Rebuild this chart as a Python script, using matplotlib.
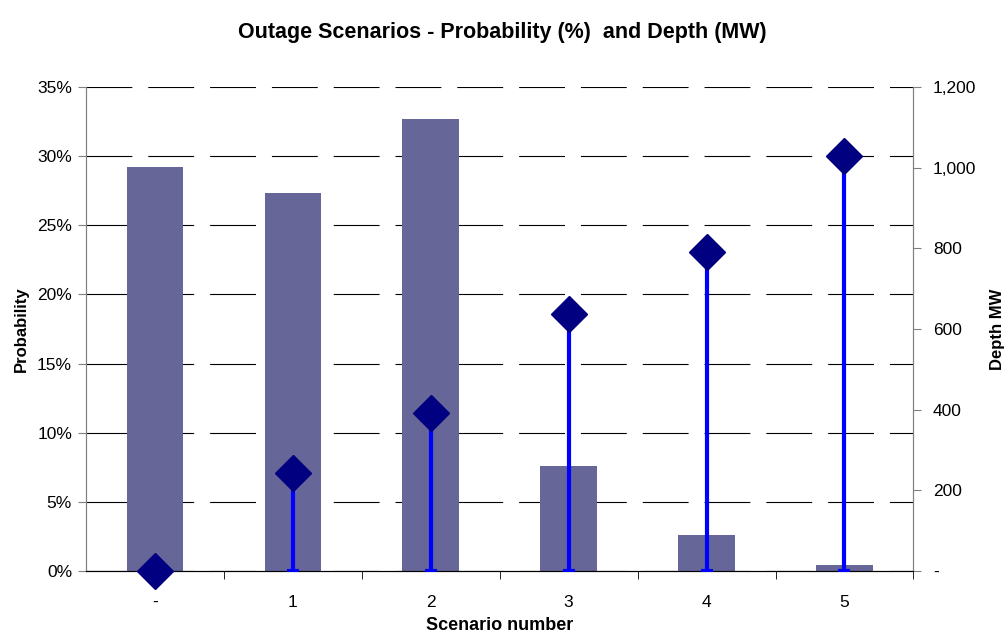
import matplotlib
matplotlib.use("Agg")
import matplotlib.pyplot as plt
import numpy as np
from matplotlib.ticker import FuncFormatter

# scenario data
scenarios = ["-", "1", "2", "3", "4", "5"]
probability = [29.2, 27.3, 32.7, 7.6, 2.6, 0.45]   # %
depth_mw = [0, 243, 392, 637, 790, 1030]           # MW

plt.rcParams['font.family'] = ['Liberation Sans', 'DejaVu Sans']
plt.rcParams['lines.scale_dashes'] = False

fig = plt.figure(figsize=(10.05, 6.35), dpi=100)
ax = fig.add_axes([0.0855, 0.1008, 0.8234, 0.7622])
ax2 = ax.twinx()

x = np.arange(len(scenarios))

# bars (probability)
ax.bar(x, probability, width=0.41, color='#666699', zorder=2)
ax.set_ylim(0, 35)
ax.set_xlim(-0.5, 5.5)
ax.set_yticks(np.arange(0, 36, 5))
ax.yaxis.set_major_formatter(FuncFormatter(lambda v, p: f"{v:.0f}%"))
ax.yaxis.grid(True, color='black', linewidth=0.8, linestyle=(0, (33, 11.5)), zorder=1)
ax.set_axisbelow(True)

# depth stems + diamonds
ax2.errorbar(x, depth_mw, yerr=[depth_mw, np.zeros(len(x))], fmt='none',
             ecolor='#0000FF', elinewidth=3, capsize=4, capthick=3, zorder=3)
ax2.plot(x, depth_mw, linestyle='none', marker='D', markersize=18,
         color='#000080', zorder=4, clip_on=False)
ax2.set_ylim(0, 1200)
ax2.set_yticks(np.arange(0, 1201, 200))
ax2.yaxis.set_major_formatter(FuncFormatter(lambda v, p: "-" if v == 0 else f"{v:,.0f}"))

# x ticks: labels at centres, marks at the boundaries
ax.set_xticks(x)
ax.set_xticklabels(scenarios)
ax.tick_params(axis='x', which='major', length=0, pad=17, labelsize=12.5)
ax.set_xticks(np.arange(0.5, 6, 1), minor=True)
ax.tick_params(axis='x', which='minor', length=6, direction='out', color='black')

ax.tick_params(axis='y', length=6, direction='out', labelsize=12.5, pad=4, color='#808080')
ax2.tick_params(axis='y', length=6, direction='out', labelsize=12.5, pad=8, color='#808080')

for a in (ax, ax2):
    a.spines['top'].set_visible(False)
    a.spines['left'].set_color('#808080')
    a.spines['right'].set_color('#808080')
    a.spines['bottom'].set_color('black')

ax.set_xlabel("Scenario number", fontweight='bold', fontsize=13, labelpad=5)
ax.set_ylabel("Probability", fontweight='bold', fontsize=12, labelpad=6)
ax2.set_ylabel("Depth MW", fontweight='bold', fontsize=12, labelpad=10)

fig.suptitle("Outage Scenarios - Probability (%)  and Depth (MW)", fontweight='bold',
             fontsize=15.5, y=0.965)

fig.savefig("out.png", dpi=100)
